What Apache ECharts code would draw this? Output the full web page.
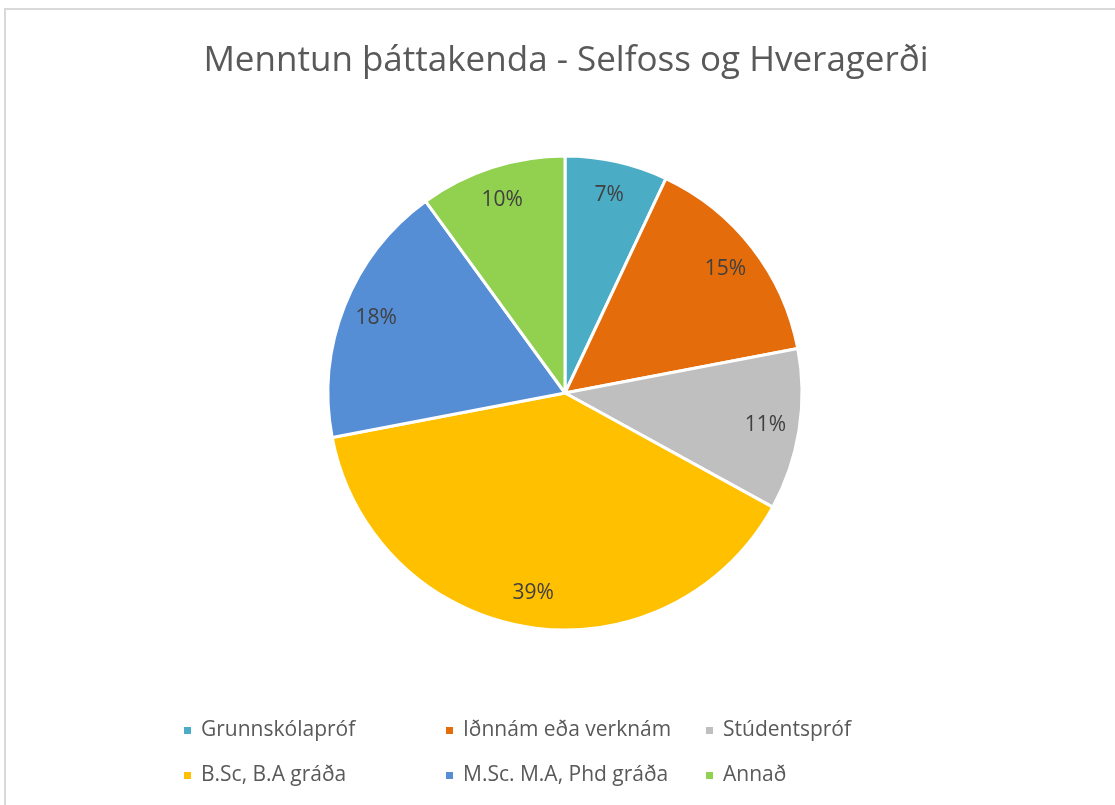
<!DOCTYPE html>
<html>
<head>
<meta charset="utf-8">
<script src="https://cdn.jsdelivr.net/npm/echarts@6/dist/echarts.min.js"></script>
<style>
  html, body { margin: 0; padding: 0; background: #fff; }
  #chart { width: 1115px; height: 805px; }
</style>
</head>
<body>
<div id="chart"></div>
<script>
// gögn úr myndinni
const categories = ['Grunnskólapróf', 'Iðnnám eða verknám', 'Stúdentspróf', 'B.Sc, B.A gráða', 'M.Sc. M.A, Phd gráða', 'Annað']
const shares = [7, 15, 11, 39, 18, 10]
const colors = ['#4bacc6', '#e46c0a', '#bfbfbf', '#ffc000', '#558ed5', '#92d050']

const font = '"Open Sans", "Liberation Sans", sans-serif'
const pieData = categories.map((name, i) => ({ name, value: shares[i] }))

// legend: þrír dálkar, tvær raðir
const legendLeft = [182, 444, 704]
const legends = legendLeft.map((left, col) => ({
    left: left,
    top: 720,
    padding: 0,
    orient: 'vertical',
    icon: 'rect',
    itemWidth: 9,
    itemHeight: 9,
    itemGap: 24,
    selectedMode: false,
    data: [categories[col], categories[col + 3]],
    textStyle: {
        fontFamily: font,
        fontSize: 21,
        color: '#595959',
        padding: [0, 0, 0, 4]
    }
}))

const chart = echarts.init(document.getElementById('chart'))
chart.setOption({
    color: colors,
    animation: false,
    title: {
        text: 'Menntun þáttakenda - Selfoss og Hveragerði',
        left: 561,
        textAlign: 'center',
        top: 39,
        textStyle: {
            fontFamily: font,
            fontSize: 35,
            fontWeight: 'normal',
            color: '#595959'
        }
    },
    legend: legends,
    graphic: [{
        type: 'rect',
        shape: { x: 5, y: 9, width: 1300, height: 1000 },
        style: { fill: 'none', stroke: '#d9d9d9', lineWidth: 2 },
        silent: true
    }],
    series: [
        {
            type: 'pie',
            center: [565, 393],
            radius: [0, 237],
            startAngle: 90,
            clockwise: true,
            data: pieData,
            itemStyle: { borderColor: '#fff', borderWidth: 3 },
            label: { show: false },
            labelLine: { show: false },
            emphasis: { disabled: true }
        },
        {
            // ósýnilegur hringur bara fyrir prósentumerkin
            type: 'pie',
            center: [565, 393],
            radius: [164, 236],
            startAngle: 90,
            clockwise: true,
            silent: true,
            data: pieData,
            itemStyle: { color: 'transparent', borderWidth: 0 },
            label: {
                show: true,
                position: 'inside',
                formatter: '{c}%',
                fontFamily: font,
                fontSize: 21,
                color: '#404040'
            },
            labelLine: { show: false },
            emphasis: { disabled: true }
        }
    ]
})
</script>
</body>
</html>
